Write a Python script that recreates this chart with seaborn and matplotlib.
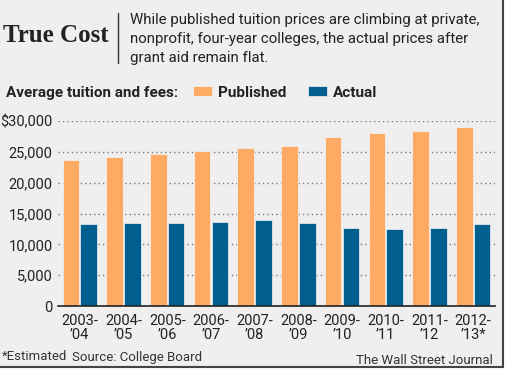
import pandas as pd
import numpy as np
import matplotlib
matplotlib.use("Agg")
import matplotlib.pyplot as plt
import seaborn as sns
from matplotlib.patches import Rectangle
from matplotlib.lines import Line2D

# data (average tuition and fees, private nonprofit four-year)
years = ["2003-\n\u201904", "2004-\n\u201905", "2005-\n\u201906", "2006-\n\u201907", "2007-\n\u201908",
         "2008-\n\u201909", "2009-\n\u201910", "2010-\n\u201911", "2011-\n\u201912", "2012-\n\u201913*"]
published = [23600, 24200, 24700, 25100, 25700, 25900, 27400, 28100, 28300, 29100]
actual = [13300, 13500, 13500, 13700, 13900, 13400, 12600, 12500, 12600, 13300]
yticks = [0, 5000, 10000, 15000, 20000, 25000, 30000]
ytick_labels = ["0", "5,000", "10,000", "15,000", "20,000", "25,000", "$30,000"]

df = pd.DataFrame({
    "year": years * 2,
    "value": published + actual,
    "kind": ["Published"] * len(years) + ["Actual"] * len(years),
})

BG = "#efefef"
ORANGE = "#fdaa64"
BLUE = "#005f8e"

sns.set_style("white")
plt.rcParams["font.family"] = ["Roboto", "DejaVu Sans"]

fig = plt.figure(figsize=(5.06, 3.74), dpi=100)
fig.patch.set_facecolor("white")
# the grey card with a dark edge on right and bottom
fig.patches.append(Rectangle((0, 1 - 367 / 374), 503 / 506, 367 / 374, transform=fig.transFigure,
                             facecolor=BG, edgecolor="none", zorder=-5))
fig.lines.append(Line2D([503 / 506, 503 / 506], [1 - 367 / 374, 1], transform=fig.transFigure,
                        color="#444444", lw=1.5, zorder=-4))
fig.lines.append(Line2D([0, 503 / 506], [1 - 367 / 374, 1 - 367 / 374], transform=fig.transFigure,
                        color="#444444", lw=1.5, zorder=-4))

ax = fig.add_axes([58 / 506, 1 - 306 / 374, (495 - 58) / 506, (306 - 121) / 374])
ax.set_facecolor(BG)

sns.barplot(data=df, x="year", y="value", hue="kind", palette=[ORANGE, BLUE], saturation=1,
            width=0.815, gap=0.07, edgecolor="#f4f4f4", linewidth=0.5,
            legend=True, ax=ax, zorder=3)

ax.set_xlim(-0.5, 9.5)
ax.set_ylim(0, 30000)
ax.set_yticks(yticks)
ax.set_yticklabels(ytick_labels)
ax.set_xlabel("")
ax.set_ylabel("")
for s in ["top", "right", "left"]:
    ax.spines[s].set_visible(False)
ax.spines["bottom"].set_color("#222222")
ax.spines["bottom"].set_linewidth(1.2)
ax.spines["bottom"].set_zorder(5)
ax.tick_params(axis="y", length=0, pad=4, labelsize=10.5, colors="#222222")
ax.tick_params(axis="x", length=4, width=1, color="#222222", pad=2, labelsize=10.5,
               labelcolor="#222222", direction="out")
for lab in ax.get_xticklabels():
    lab.set_linespacing(0.95)
ax.yaxis.grid(True, linestyle=(0, (1, 2.2)), color="#777777", linewidth=1, zorder=0)
ax.set_axisbelow(True)

sns.move_legend(ax, "center left", bbox_to_anchor=(193 / 506, 1 - 92.7 / 374),
                bbox_transform=fig.transFigure, ncol=2, frameon=False, title=None,
                borderpad=0, borderaxespad=0, handlelength=1.25, handleheight=0.65,
                handletextpad=0.4, columnspacing=1.4,
                prop={"weight": "bold", "size": 11})
for t in ax.get_legend().get_texts():
    t.set_color("#222222")

# header
fig.text(3 / 506, 1 - 36 / 374, "True Cost", family="Liberation Serif", weight="bold",
         fontsize=18, va="center", ha="left", color="#222222")
fig.lines.append(Line2D([118.5 / 506, 118.5 / 506], [1 - 13 / 374, 1 - 63 / 374],
                        transform=fig.transFigure, color="#333333", lw=1))
fig.text(130 / 506, 1 - 39 / 374,
         "While published tuition prices are climbing at private,\n"
         "nonprofit, four-year colleges, the actual prices after\n"
         "grant aid remain flat.",
         fontsize=10.8, va="center", ha="left", linespacing=1.45, color="#222222")
fig.text(6 / 506, 1 - 92.7 / 374, "Average tuition and fees:", fontsize=11, weight="bold",
         va="center", ha="left", color="#222222")

# footer
fig.text(2 / 506, 1 - 357 / 374, "*Estimated", fontsize=9.5, va="center", ha="left", color="#333333")
fig.text(72 / 506, 1 - 357 / 374, "Source: College Board", fontsize=9.5, va="center", ha="left",
         color="#333333")
fig.text(493 / 506, 1 - 361 / 374, "The Wall Street Journal", fontsize=9.5, va="center", ha="right",
         color="#333333")

fig.savefig("out.png", dpi=100, facecolor=fig.get_facecolor())
